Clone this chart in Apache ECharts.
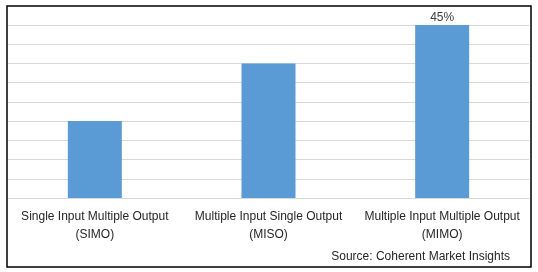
<!DOCTYPE html>
<html><head><meta charset="utf-8">
<script src="https://cdn.jsdelivr.net/npm/echarts@6/dist/echarts.min.js"></script>
<style>html,body{margin:0;padding:0;background:#fff}#c{width:538px;height:272px}</style>
</head><body><div id="c"></div>
<script>
const categories = ["Single Input Multiple Output\n(SIMO)", "Multiple Input Single Output\n(MISO)", "Multiple Input Multiple Output\n(MIMO)"];
const shares = [20, 35, 45];
const labelShown = [false, false, true];
const sourceText = "Source: Coherent Market Insights";

const chart = echarts.init(document.getElementById('c'), null, {renderer:'canvas'});
const font = "Liberation Sans";
chart.setOption({
  animation: false,
  backgroundColor: '#fff',
  grid: {left: 8, right: 9, top: 25, bottom: 74, containLabel: false},
  xAxis: {
    type: 'category', data: categories,
    axisLine: {show: true, lineStyle: {color: '#D9D9D9', width: 1}},
    axisTick: {show: false},
    axisLabel: {color: '#262626', fontFamily: font, fontSize: 12, lineHeight: 18, margin: 10, interval: 0}
  },
  yAxis: {
    type: 'value', min: 0, max: 45, interval: 5,
    axisLabel: {show: false}, axisLine: {show: false}, axisTick: {show: false},
    splitLine: {lineStyle: {color: '#D9D9D9', width: 1}}
  },
  series: [{
    type: 'bar', barWidth: 54,
    data: shares.map((v, i) => ({value: v, label: {show: labelShown[i]}})),
    itemStyle: {color: '#5B9BD5'},
    label: {position: 'top', formatter: '{c}%', color: '#404040', fontFamily: font, fontSize: 12, distance: 1}
  }],
  graphic: [
    {type: 'rect', shape: {x: 7, y: 6, width: 524, height: 261}, style: {fill: null, stroke: '#000', lineWidth: 1.5}, z: 100},
    {type: 'text', right: 28, top: 251, style: {text: sourceText, fill: '#262626', font: '12px "Liberation Sans"'}}
  ]
});
</script></body></html>
